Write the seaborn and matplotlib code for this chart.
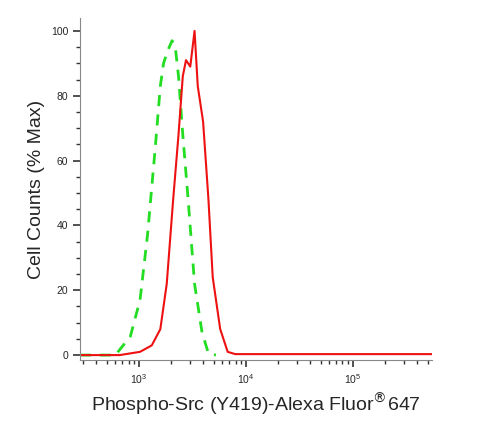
import seaborn as sns
import matplotlib.pyplot as plt
import matplotlib.ticker as mticker
import numpy as np
import pandas as pd

# log10 fluorescence and % max
green_log = [2.45, 2.78, 2.92, 3.01, 3.08, 3.15, 3.20, 3.23, 3.27, 3.31, 3.34, 3.37, 3.41, 3.46, 3.52, 3.59, 3.65, 3.72]
green_pct = [0, 0, 5.8, 17, 37, 63, 83, 90, 94, 97, 95, 86, 68, 48, 22, 7, 0.5, 0]
red_log = [2.45, 2.82, 3.01, 3.12, 3.20, 3.26, 3.32, 3.37, 3.41, 3.44, 3.46, 3.48, 3.52, 3.55, 3.60, 3.65, 3.69, 3.76, 3.83, 3.90, 5.74]
red_pct = [0, 0, 1, 3, 8, 22, 48, 68, 86, 91, 90, 89, 100, 83, 72, 48, 24, 8, 1, 0.3, 0.3]

sns.set_style('ticks')
plt.rcParams['font.family'] = ['Liberation Sans', 'DejaVu Sans']

fig = plt.figure(figsize=(5.04, 4.28), dpi=100)
ax = fig.add_axes([0.159, 0.159, 0.698, 0.799])

green = pd.DataFrame({'x': 10 ** np.array(green_log), 'y': green_pct})
red = pd.DataFrame({'x': 10 ** np.array(red_log), 'y': red_pct})
sns.lineplot(data=green, x='x', y='y', ax=ax, color='#22dd22', lw=2, linestyle=(0, (4, 3)))
sns.lineplot(data=red, x='x', y='y', ax=ax, color='#ee1111', lw=1.5)

ax.set_xscale('log')
ax.set_xlim(10 ** 2.45, 10 ** 5.74)
ax.set_ylim(-1.5, 104)
ax.set_yticks([0, 20, 40, 60, 80, 100])
ax.yaxis.set_minor_locator(mticker.MultipleLocator(5))
ax.xaxis.set_major_locator(mticker.FixedLocator([1e3, 1e4, 1e5]))
ax.xaxis.set_minor_locator(mticker.LogLocator(subs=np.arange(2, 10)))
ax.xaxis.set_minor_formatter(mticker.NullFormatter())
ax.tick_params(which='major', length=5, width=1.2, labelsize=7.5, color='#333333')
ax.tick_params(which='minor', length=3, width=1, color='#333333')
for s in ['top', 'right']:
    ax.spines[s].set_visible(False)
for s in ['left', 'bottom']:
    ax.spines[s].set_color('#888888')

ax.set_xlabel('Phospho-Src (Y419)-Alexa Fluor$^{®}$647', fontsize=14)
ax.set_ylabel('Cell Counts (% Max)', fontsize=14)
plt.savefig('out.png', dpi=100)
